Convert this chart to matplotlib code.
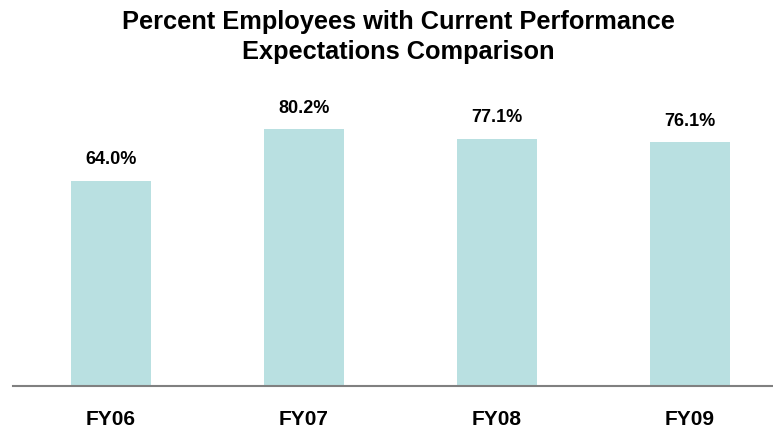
import numpy as np
import matplotlib.pyplot as plt

years = ["FY06", "FY07", "FY08", "FY09"]
pct = [64.0, 80.2, 77.1, 76.1]

plt.rcParams['font.family'] = ['Liberation Sans', 'DejaVu Sans']

fig = plt.figure(figsize=(7.73, 4.33), dpi=100)
ax = fig.add_axes([13 / 773, 47 / 433, 760 / 773, 320 / 433])

x = np.arange(len(years))
bars = ax.bar(x, pct, width=0.41, color="#b9e0e1")
for b, v in zip(bars, pct):
    ax.text(b.get_x() + b.get_width() / 2, v + 4, f"{v:.1f}%",
            ha="center", va="bottom", fontsize=13, fontweight="bold")

ax.set_xlim(-0.508, 3.43)
ax.set_ylim(0, 100)
ax.set_xticks(x)
ax.set_xticklabels(years, fontsize=15, fontweight="bold")
ax.tick_params(axis="x", length=0, pad=17)
ax.set_yticks([])
for s in ["top", "right", "left"]:
    ax.spines[s].set_visible(False)
ax.spines["bottom"].set_color("#808080")
ax.spines["bottom"].set_linewidth(1.5)

fig.text(398 / 773, 1 - 37 / 433, "Percent Employees with Current Performance\nExpectations Comparison",
         ha="center", va="center", fontsize=18.3, fontweight="bold", linespacing=1.3)

fig.savefig("out.png", dpi=100)
